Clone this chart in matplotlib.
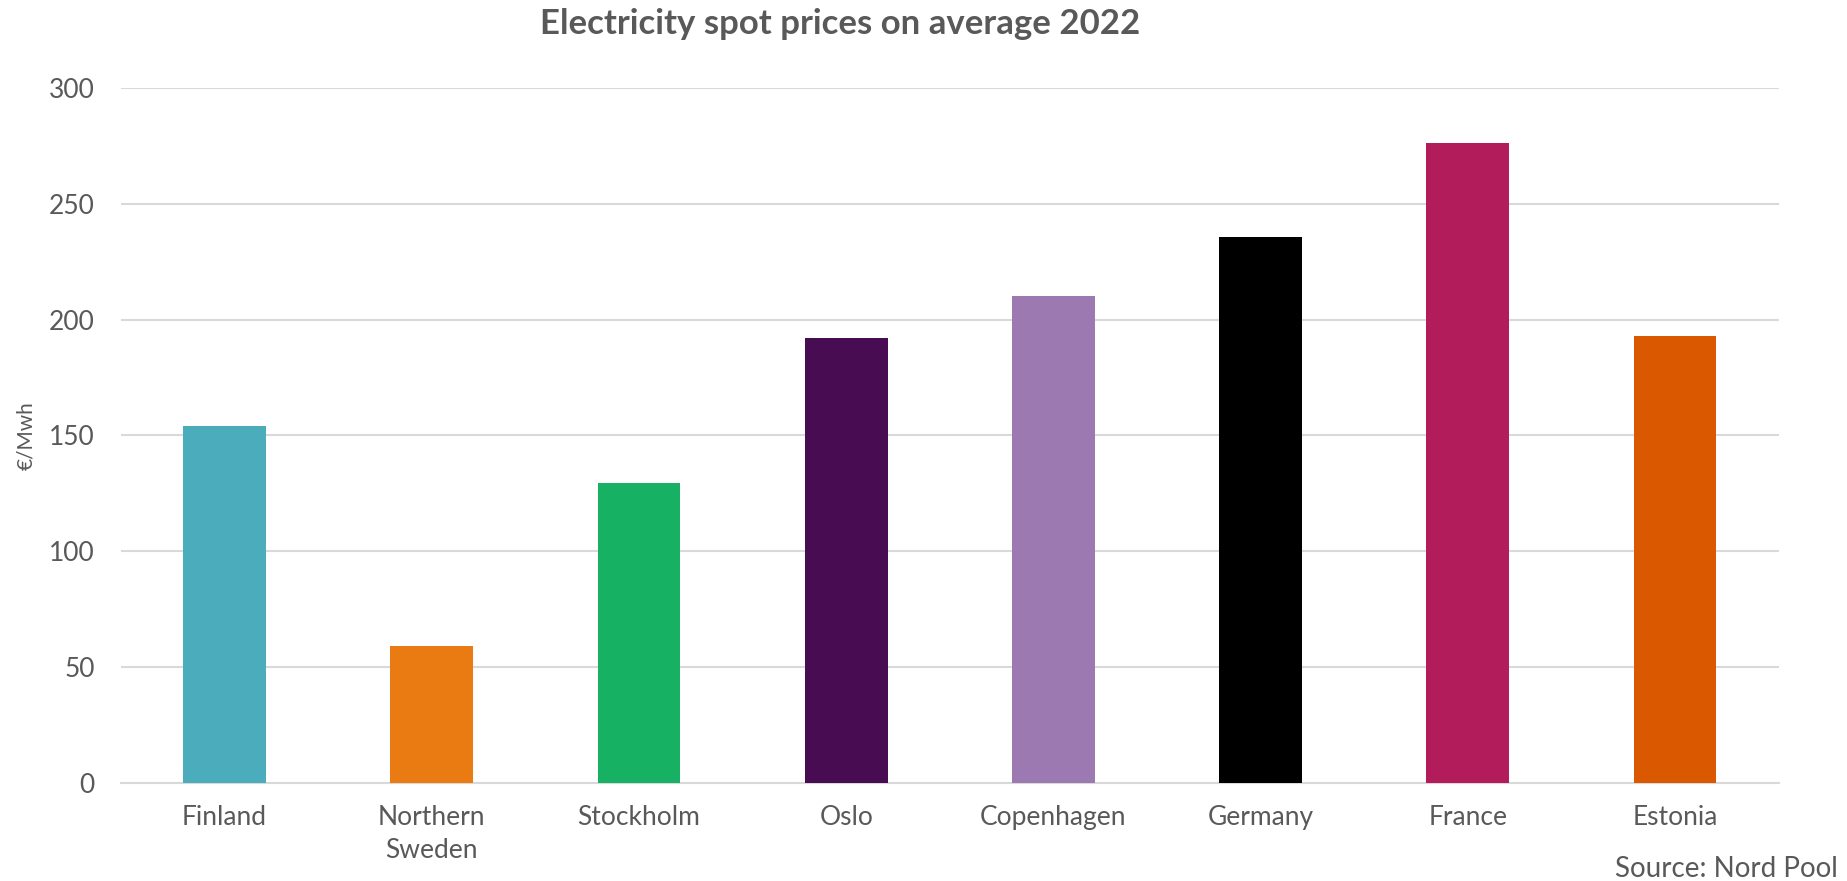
import matplotlib.pyplot as plt

# 2022年の平均スポット価格 (€/MWh)
regions = ["Finland", "Northern\nSweden", "Stockholm", "Oslo", "Copenhagen",
           "Germany", "France", "Estonia"]
prices = [154.0, 59.0, 129.4, 192.0, 210.1, 235.6, 276.2, 192.9]
bar_colors = ["#4BADBB", "#EA7A12", "#17B163", "#470C52", "#9D79B2",
              "#000000", "#B21C5A", "#DA5800"]

plt.rcParams['font.family'] = ['Lato', 'DejaVu Sans']
gray = "#595959"

fig = plt.figure(figsize=(18.47, 8.81), dpi=100)
ax = fig.add_axes([0.0655, 0.1116, 0.8975, 0.7885])

x = range(len(regions))
ax.bar(x, prices, width=0.40, color=bar_colors, zorder=3)

ax.set_xlim(-0.5, len(regions) - 0.5)
ax.set_ylim(0, 300)
ax.set_yticks(range(0, 301, 50))
ax.set_xticks(list(x))
ax.set_xticklabels(regions, fontsize=19, color=gray, linespacing=1.38)
ax.tick_params(axis='y', labelsize=19, labelcolor=gray, length=0, pad=19)
ax.tick_params(axis='x', length=0, pad=16)

ax.grid(axis='y', color="#D9D9D9", linewidth=1.5, zorder=0)
for side in ['top', 'right', 'left']:
    ax.spines[side].set_visible(False)
ax.spines['bottom'].set_color("#D9D9D9")
ax.spines['bottom'].set_linewidth(1.5)

ax.set_ylabel("€/Mwh", fontsize=15, color=gray)
ax.yaxis.set_label_coords(-0.051, 0.5)
fig.text(0.455, 0.973, "Electricity spot prices on average 2022", ha='center', va='center',
         fontsize=25, fontweight='bold', color=gray)
fig.text(0.995, 0.004, "Source: Nord Pool", ha='right', va='baseline',
         fontsize=20, color=gray)

fig.savefig("out.png", dpi=100)
